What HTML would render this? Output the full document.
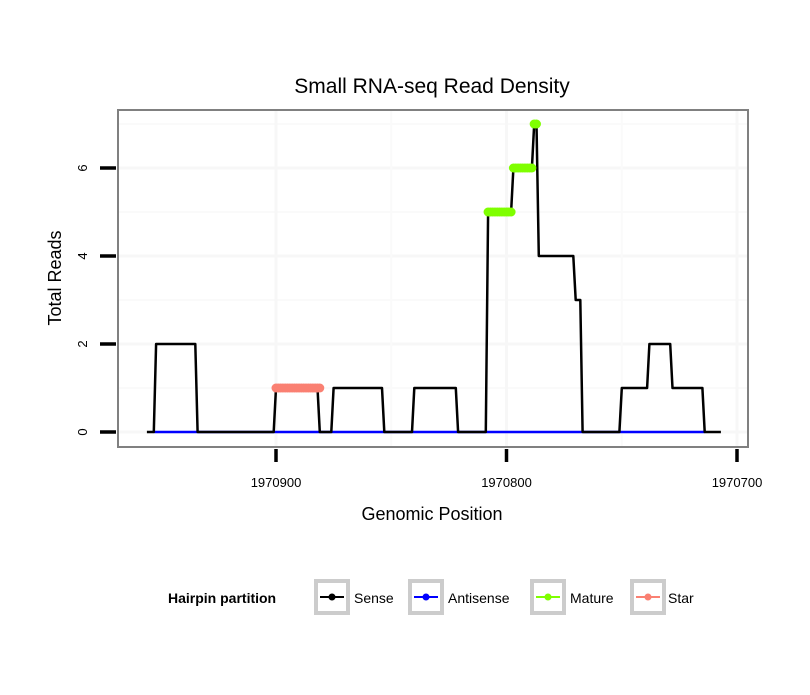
<!DOCTYPE html>
<html><head><meta charset="utf-8"><style>
body{margin:0;background:#fff;font-family:"Liberation Sans",sans-serif}
svg text{font-family:"Liberation Sans",sans-serif}
</style></head><body>
<svg id="chart" width="810" height="690" xmlns="http://www.w3.org/2000/svg">
<rect width="810" height="690" fill="#fff"/>
<text x="432" y="93" text-anchor="middle" font-size="21">Small RNA-seq Read Density</text>
<g id="grid"></g>
<g id="series"></g>
<rect x="118" y="110" width="630" height="337" fill="none" stroke="#808080" stroke-width="2"/>
<g id="axes"></g>
<text x="432" y="520" text-anchor="middle" font-size="18">Genomic Position</text>
<text transform="translate(61,278) rotate(-90)" text-anchor="middle" font-size="18">Total Reads</text>
<g>
<text x="168" y="603" font-size="14" font-weight="bold">Hairpin partition</text>
<g id="legend"></g>
</g>
</svg>
<script>
const sensePos=[1970956,1970953,1970952,1970935,1970934,1970901,1970900,1970882,1970881,1970876,1970875,1970854,1970853,1970841,1970840,1970822,1970821,1970809,1970808,1970798,1970797,1970789,1970788,1970787,1970786,1970771,1970770,1970768,1970767,1970751,1970750,1970739,1970738,1970729,1970728,1970715,1970714,1970707];
const senseVal=[0,0,2,2,0,0,1,1,0,0,1,1,0,0,1,1,0,0,5,5,6,6,7,7,4,4,3,3,0,0,1,1,2,2,1,1,0,0];
const antisensePos=[1970953,1970714];
const antisenseVal=[0,0];
const maturePos=[1970808,1970807,1970806,1970805,1970804,1970803,1970802,1970801,1970800,1970799,1970798,1970797,1970796,1970795,1970794,1970793,1970792,1970791,1970790,1970789,1970788,1970787];
const matureVal=[5,5,5,5,5,5,5,5,5,5,5,6,6,6,6,6,6,6,6,6,7,7];
const starPos=[1970900,1970899,1970898,1970897,1970896,1970895,1970894,1970893,1970892,1970891,1970890,1970889,1970888,1970887,1970886,1970885,1970884,1970883,1970882,1970881];
const starVal=[1,1,1,1,1,1,1,1,1,1,1,1,1,1,1,1,1,1,1,1];
const xTicks=[1970900,1970800,1970700];
const xMinorGrid=[1970850,1970750];
const yTicks=[0,2,4,6];
const yMinorGrid=[1,3,5,7];
const legendLabels=["Sense","Antisense","Mature","Star"];
const legendColors=["#000000","#0000ff","#7fff00","#fa8072"];

const NS="http://www.w3.org/2000/svg";
function xs(p){return 276+(1970900-p)*2.305;}
function ys(v){return 432-v*44;}
function mk(tag,attrs,parent){const e=document.createElementNS(NS,tag);for(const k in attrs)e.setAttribute(k,attrs[k]);parent.appendChild(e);return e;}
const grid=document.getElementById('grid'),series=document.getElementById('series'),axes=document.getElementById('axes'),legend=document.getElementById('legend');
yMinorGrid.forEach(v=>{const l=mk('line',{x1:119,x2:747,y1:ys(v),y2:ys(v),stroke:'#fafafa','stroke-width':2},grid);

});
yTicks.forEach(v=>{const l=mk('line',{x1:119,x2:747,y1:ys(v),y2:ys(v),stroke:'#f7f7f7','stroke-width':3},grid);

});
xMinorGrid.forEach(p=>{const l=mk('line',{x1:xs(p),x2:xs(p),y1:111,y2:446,stroke:'#fafafa','stroke-width':2},grid);

});
xTicks.forEach(p=>{const l=mk('line',{x1:xs(p),x2:xs(p),y1:111,y2:446,stroke:'#f7f7f7','stroke-width':3},grid);

});
function path(pos,val,color,w,name){
  const d=pos.map((p,i)=>(i?'L':'M')+xs(p).toFixed(1)+','+ys(val[i]).toFixed(1)).join('');
  const e=mk('path',{d:d,fill:'none',stroke:color,'stroke-width':w,'stroke-linejoin':'round'},series);
  
  
}
path(antisensePos,antisenseVal,'#0000ff',2.5,'antisense-line');
path(sensePos,senseVal,'#000',2.5,'sense-line');
function pts(pos,val,color,name){
  pos.forEach((p,i)=>{const c=mk('circle',{cx:xs(p),cy:ys(val[i]),r:4.5,fill:color},series);
  
  });
}
pts(maturePos,matureVal,'#7fff00','mature');
pts(starPos,starVal,'#fa8072','star');
xTicks.forEach(p=>{const t=mk('line',{x1:xs(p),x2:xs(p),y1:449,y2:462,stroke:'#000','stroke-width':3.5},axes);


const tx=mk('text',{x:xs(p),y:487,'text-anchor':'middle','font-size':13},axes);tx.textContent=p;

});
yTicks.forEach(v=>{const t=mk('line',{x1:100,x2:116,y1:ys(v),y2:ys(v),stroke:'#000','stroke-width':3.5},axes);


const tx=mk('text',{transform:'translate(87,'+ys(v)+') rotate(-90)','text-anchor':'middle','font-size':13},axes);tx.textContent=v;

});
const lx=[314,408,530,630],tx2=[354,448,570,668];
legendLabels.forEach((lab,i)=>{
  const g=mk('g',{},legend);
  
  
  mk('rect',{x:lx[i]+2,y:581,width:32,height:32,fill:'#fff',stroke:'#cccccc','stroke-width':4},g);
  mk('line',{x1:lx[i]+6,x2:lx[i]+30,y1:597,y2:597,stroke:legendColors[i],'stroke-width':2},g);
  mk('circle',{cx:lx[i]+18,cy:597,r:3.5,fill:legendColors[i]},g);
  const t=mk('text',{x:tx2[i],y:603,'font-size':14},g);t.textContent=lab;
});
</script>
</body></html>
